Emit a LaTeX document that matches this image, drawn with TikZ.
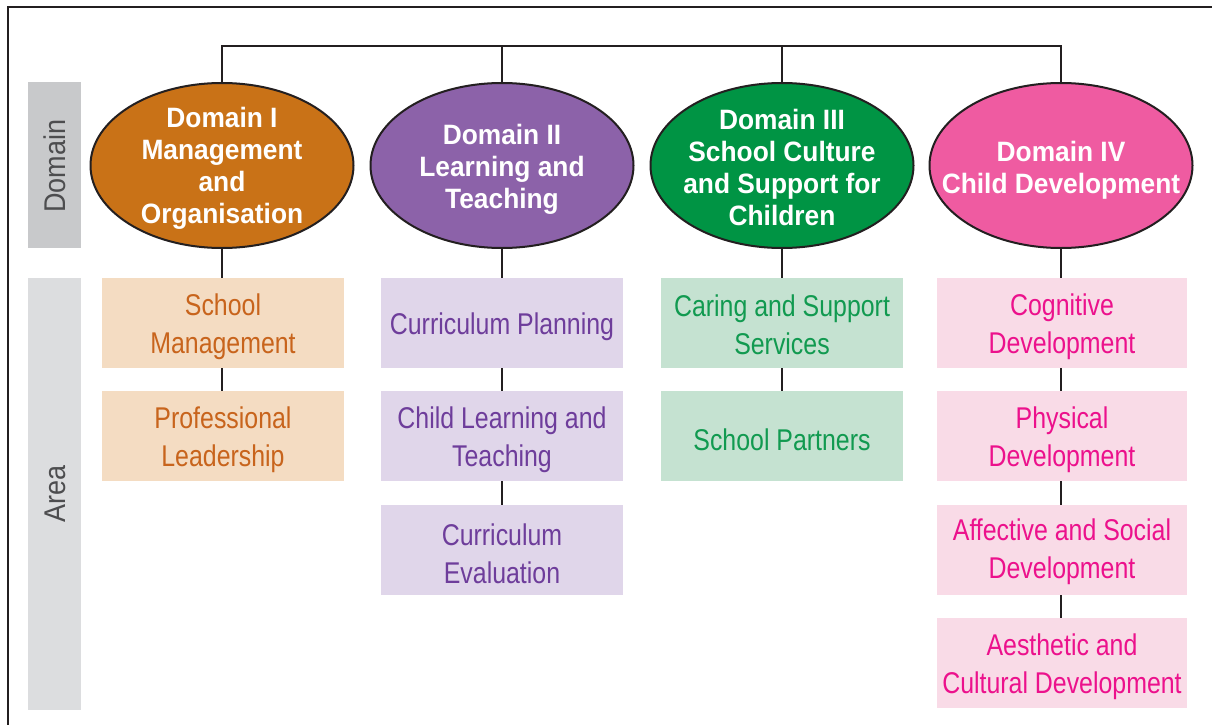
\documentclass[tikz,border=0pt]{standalone}
\usepackage{fontspec}
\usetikzlibrary{shapes.geometric}
\newfontfamily\domfont[FakeStretch=0.94]{Liberation Sans}
\newfontfamily\areafont[FakeStretch=0.83]{Liberation Sans}
\newfontfamily\sidefont[FakeStretch=0.9]{Liberation Sans}
\definecolor{lineC}{HTML}{231F20}
\definecolor{orD}{HTML}{C97217}
\definecolor{puD}{HTML}{8C62A9}
\definecolor{grD}{HTML}{009444}
\definecolor{piD}{HTML}{EF5BA1}
\definecolor{orL}{HTML}{F4DCC2}
\definecolor{puL}{HTML}{E0D6EA}
\definecolor{grL}{HTML}{C5E2D1}
\definecolor{piL}{HTML}{F9DBE7}
\definecolor{orT}{HTML}{C8641C}
\definecolor{puT}{HTML}{6E3D9B}
\definecolor{grT}{HTML}{119A50}
\definecolor{piT}{HTML}{EC118C}
\definecolor{gyA}{HTML}{C8C9CB}
\definecolor{gyB}{HTML}{DCDDDF}
\definecolor{gyT}{HTML}{4D4D4F}
\tikzset{
  conn/.style={draw=lineC, line width=2.4pt},
  domell/.style={ellipse, draw=lineC, line width=2pt, minimum width=263pt, minimum height=165pt, inner sep=0pt},
  domtxt/.style={text=white, align=center, font=\domfont\bfseries\fontsize{28}{32}\selectfont, inner sep=0pt},
  areabox/.style={rectangle, minimum width=242pt, minimum height=90pt, inner sep=0pt},
  areatxt/.style={align=center, inner sep=0pt, font=\areafont\fontsize{30}{38}\selectfont},
  sidebox/.style={rectangle, minimum width=53pt, inner sep=0pt},
  sidetxt/.style={rotate=90, text=gyT, font=\sidefont\fontsize{30}{36}\selectfont, inner sep=0pt},
}
\begin{document}
\begin{tikzpicture}[x=1pt,y=-1pt]
\useasboundingbox (0,0) rectangle (1212,725);
\fill[white] (0,0) rectangle (1212,725);
% frame
\draw[conn, line width=2.2pt] (8,730) -- (8,7) -- (1220,7);
% side labels
\node[sidebox, fill=gyA, minimum height=166pt] (sdom) at (54.5,165) {};
\node[sidetxt] (sdomt) at (55,166) {Domain};
\node[sidebox, fill=gyB, minimum height=432pt] (sarea) at (54.5,494) {};
\node[sidetxt] (sareat) at (55,494) {Area};
% domains
\node[domell, fill=orD] (d1) at (222,165.5) {};
\node[domell, fill=puD] (d2) at (502,165.5) {};
\node[domell, fill=grD] (d3) at (782,165.5) {};
\node[domell, fill=piD] (d4) at (1061,165.5) {};
\node[domtxt] (d1t) at (222,168) {Domain I\\Management\\and\\Organisation};
\node[domtxt] (d2t) at (502,169) {Domain II\\Learning and\\Teaching};
\node[domtxt] (d3t) at (782,167) {Domain III\\School Culture\\and Support for\\Children};
\node[domtxt] (d4t) at (1061,170) {Domain IV\\Child Development};
% top bar
\coordinate (b1) at (222,46);
\coordinate (b2) at (502,46);
\coordinate (b3) at (782,46);
\coordinate (b4) at (1061,46);
\draw[conn] (d1.north) -- (b1) -- (b4) -- (d4.north);
\draw[conn] (b2) -- (d2.north);
\draw[conn] (b3) -- (d3.north);
% areas column 1
\node[areabox, fill=orL] (a11) at (223,323) {};
\node[areabox, fill=orL] (a12) at (223,436) {};
% column 2
\node[areabox, fill=puL] (a21) at (502,323) {};
\node[areabox, fill=puL] (a22) at (502,436) {};
\node[areabox, fill=puL] (a23) at (502,550) {};
% column 3
\node[areabox, fill=grL] (a31) at (782,323) {};
\node[areabox, fill=grL] (a32) at (782,436) {};
% column 4
\node[areabox, fill=piL, minimum width=250pt] (a41) at (1062,323) {};
\node[areabox, fill=piL, minimum width=250pt] (a42) at (1062,436) {};
\node[areabox, fill=piL, minimum width=250pt] (a43) at (1062,550) {};
\node[areabox, fill=piL, minimum width=250pt] (a44) at (1062,663) {};
% area texts
\node[areatxt, text=orT] (t11) at (223,327) {School\\Management};
\node[areatxt, text=orT] (t12) at (223,440) {Professional\\Leadership};
\node[areatxt, text=puT] (t21) at (502,327) {Curriculum Planning};
\node[areatxt, text=puT] (t22) at (502,440) {Child Learning and\\Teaching};
\node[areatxt, text=puT] (t23) at (502,554) {Curriculum\\Evaluation};
\node[areatxt, text=grT] (t31) at (782,325) {Caring and Support\\Services};
\node[areatxt, text=grT] (t32) at (782,440) {School Partners};
\node[areatxt, text=piT] (t41) at (1062,327) {Cognitive\\Development};
\node[areatxt, text=piT] (t42) at (1062,440) {Physical\\Development};
\node[areatxt, text=piT] (t43) at (1062,552) {Affective and Social\\Development};
\node[areatxt, text=piT] (t44) at (1062,667) {Aesthetic and\\Cultural Development};
% connectors
\draw[conn] (d1.south) -- (d1.south |- a11.north);
\draw[conn] (a11.south -| d1.south) -- (d1.south |- a12.north);
\draw[conn] (d2.south) -- (a21.north);
\draw[conn] (a21.south) -- (a22.north);
\draw[conn] (a22.south) -- (a23.north);
\draw[conn] (d3.south) -- (a31.north);
\draw[conn] (a31.south) -- (a32.north);
\draw[conn] (d4.south) -- (d4.south |- a41.north);
\draw[conn] (a41.south -| d4.south) -- (d4.south |- a42.north);
\draw[conn] (a42.south -| d4.south) -- (d4.south |- a43.north);
\draw[conn] (a43.south -| d4.south) -- (d4.south |- a44.north);
\end{tikzpicture}
\end{document}
